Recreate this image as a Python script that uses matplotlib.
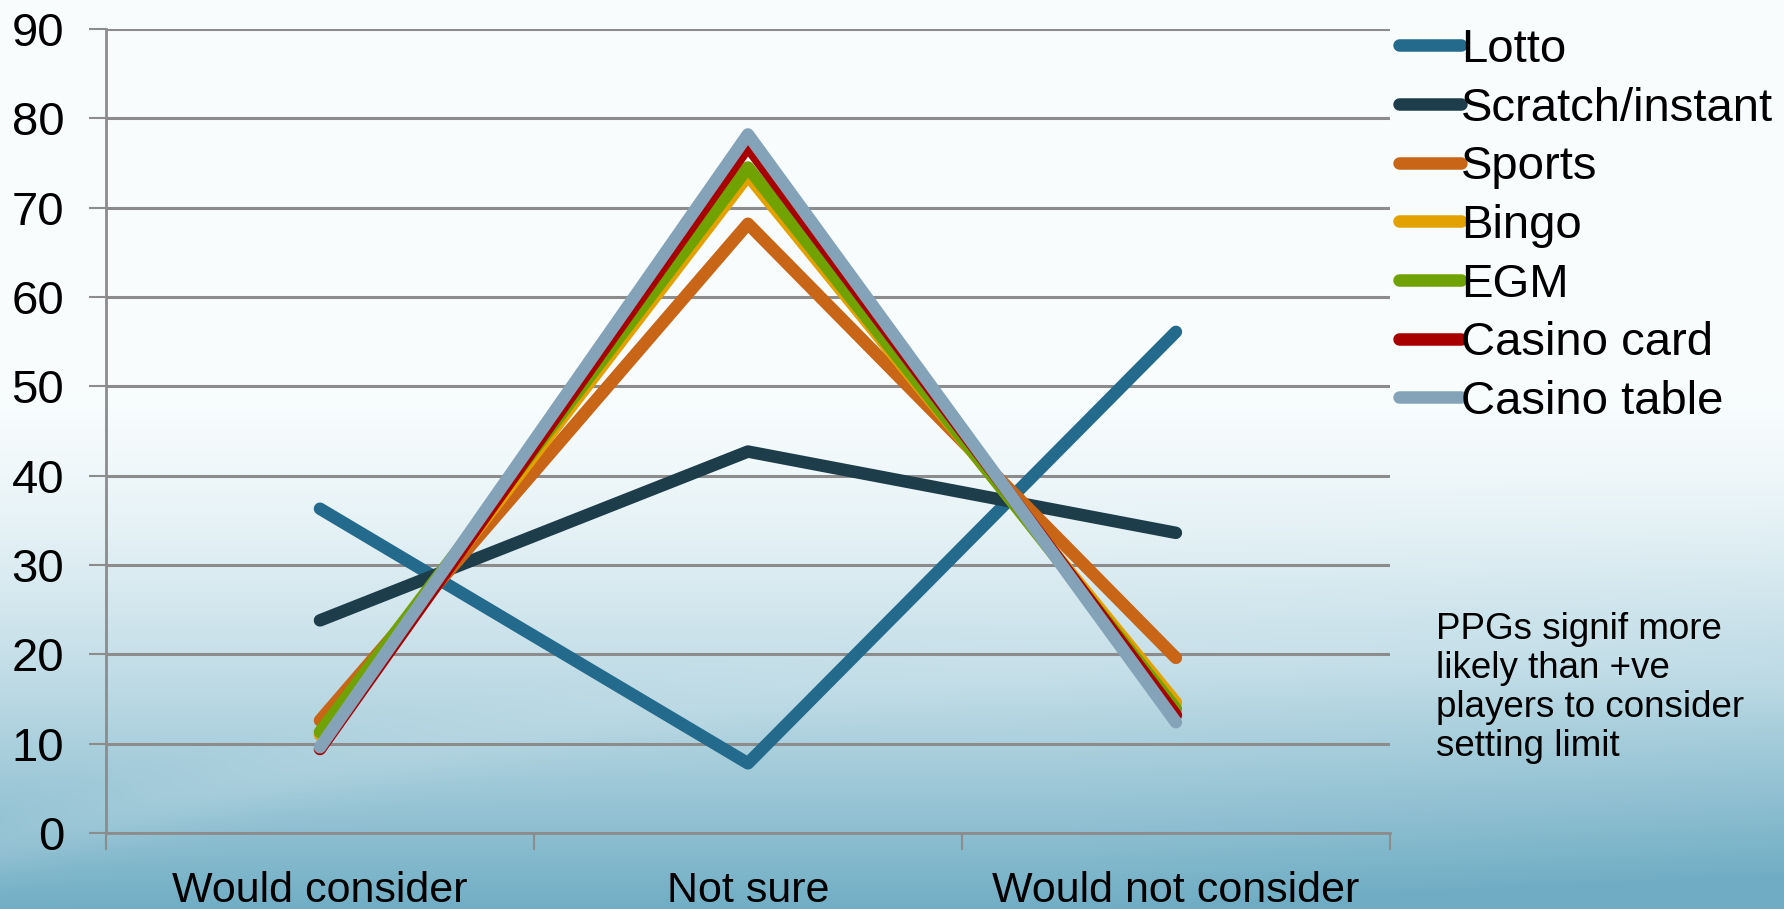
import numpy as np
import matplotlib
matplotlib.use('Agg')
import matplotlib.pyplot as plt

plt.rcParams['font.family'] = ['Liberation Sans', 'DejaVu Sans']

categories = ["Would consider", "Not sure", "Would not consider"]
series_names = ["Lotto", "Scratch/instant", "Sports", "Bingo", "EGM",
                "Casino card", "Casino table"]
lotto = [36.3, 7.8, 56.1]
scratch = [23.8, 42.7, 33.6]
sports = [12.6, 68.2, 19.6]
bingo = [11.0, 73.6, 14.6]
egm = [11.3, 74.5, 13.9]
casino_card = [9.4, 76.9, 13.2]
casino_table = [9.6, 78.2, 12.4]
y_ticks = [0, 10, 20, 30, 40, 50, 60, 70, 80, 90]
note = "PPGs signif more\nlikely than +ve\nplayers to consider\nsetting limit"

colors = ["#236a8c", "#1e3d4a", "#c96516", "#e3a102", "#6fa202",
          "#a80000", "#84a3b9"]

fig = plt.figure(figsize=(17.84, 9.09), dpi=100)

# slide background: pale top fading into teal, with soft light arcs
bg = fig.add_axes([0, 0, 1, 1], zorder=-10)
h, w = 909, 1784
yy, xx = np.mgrid[0:h, 0:w] / np.array([h, w])[:, None, None]
top = np.array([0.975, 0.992, 0.996])
bottom = np.array([0.44, 0.68, 0.77])
t = np.clip((yy - 0.42) / 0.58, 0, 1) ** 1.5
t = t + 0.25 * np.clip(xx - 0.6, 0, 1) * np.clip((yy - 0.5) / 0.5, 0, 1)
t = np.clip(t, 0, 1)
img = top[None, None, :] * (1 - t[..., None]) + bottom[None, None, :] * t[..., None]
# light swoosh band
arc = 0.86 - 0.22 * xx + 0.35 * (xx - 0.45) ** 2
band = np.exp(-((yy - arc) / 0.035) ** 2) * np.clip((yy - 0.55) / 0.3, 0, 1)
img = img + 0.10 * band[..., None] * (1 - img)
bg.imshow(np.clip(img, 0, 1), aspect='auto', extent=[0, 1, 0, 1], origin='upper')
bg.axis('off')

ax = fig.add_axes([0.0594, 0.0836, 0.7197, 0.8845])
ax.patch.set_alpha(0)

x = np.arange(len(categories)) + 0.5
data = [lotto, scratch, sports, bingo, egm, casino_card, casino_table]
for name, vals, c in zip(series_names, data, colors):
    ax.plot(x, vals, color=c, lw=9, label=name,
            solid_capstyle='round', solid_joinstyle='round')

ax.set_xlim(0, len(categories))
ax.set_ylim(0, 90)
ax.set_yticks(y_ticks)
ax.set_xticks(np.arange(len(categories) + 1))
ax.set_xticklabels([])
ax.set_xticks(x, minor=True)
ax.set_xticklabels(categories, minor=True)
ax.tick_params(axis='x', which='minor', length=0, pad=27, labelsize=31)
ax.tick_params(axis='x', which='major', length=12, width=1.5, color='#8c8c8c')
ax.tick_params(axis='y', length=12, width=1.5, color='#8c8c8c', labelsize=34, pad=18)
ax.yaxis.grid(True, color='#8c8c8c', lw=2.2)
ax.set_axisbelow(True)
for s in ['top', 'right']:
    ax.spines[s].set_visible(False)
for s in ['left', 'bottom']:
    ax.spines[s].set_color('#8c8c8c')
    ax.spines[s].set_linewidth(2)

leg = ax.legend(loc='upper left', bbox_to_anchor=(1.0, 1.013), frameon=False,
                fontsize=34, handlelength=1.3, handletextpad=0.0,
                labelspacing=0.31, borderaxespad=0.0, borderpad=0.2)
for line in leg.get_lines():
    line.set_linewidth(9)
    line.set_solid_capstyle('round')

fig.text(0.805, 0.327, note, fontsize=26.5, va='top', ha='left',
         linespacing=1.15)

fig.savefig('out.png', dpi=100)
